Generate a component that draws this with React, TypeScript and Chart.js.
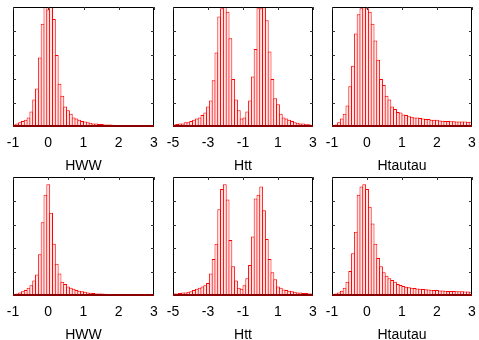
import React, { useEffect, useRef } from "react";
import { Chart, registerables } from "chart.js";

Chart.register(...registerables);

// ---- data (relative bin heights, 50 bins per panel; 100 = top of the frame) ----
const hwwTop = [
  2, 3, 4, 5, 6, 8, 13, 23, 32, 58,
  86, 100, 98, 100, 90, 60, 36, 26, 17, 14,
  11, 8, 7, 6, 5, 4.5, 4, 3.5, 3, 3,
  2.5, 2.5, 2, 2, 2, 1.8, 1.5, 1.5, 1.2, 1.2,
  1, 1, 1, 0.8, 0.8, 0.7, 0.6, 0.5, 0.5, 0.5,
];
const httTop = [
  2, 2.5, 3, 3, 4, 4, 5, 6, 7, 8,
  10, 12, 17, 22, 39, 62, 92, 99, 100, 96,
  74, 40, 23, 14, 7, 8, 13, 22, 42, 65,
  99, 99, 100, 89, 63, 40, 24, 19, 11, 8,
  7, 6, 5, 4, 3.5, 3, 3, 2.2, 2.2, 1.7,
];
const htautauTop = [
  1.5, 2, 4, 7, 11, 18, 34, 51, 78, 94,
  99, 100, 99, 96, 86, 72, 56, 40, 35, 26,
  23, 17, 15, 12.5, 12, 10.5, 10, 9, 8.5, 8,
  8, 7.5, 7, 6.7, 6.7, 6, 6, 6, 5.5, 5.3,
  5, 5, 4.8, 4.7, 4.6, 4.6, 4.5, 4.5, 4.4, 4.4,
];
const hwwBottom = [
  1.5, 2, 3, 4, 5, 7, 9, 13, 18, 35,
  62, 85, 94, 70, 44, 27, 19, 12, 10, 8,
  7, 6, 5, 4.5, 4, 3.5, 3, 2.8, 2.5, 2.2,
  2, 2, 1.8, 1.5, 1.5, 1.3, 1.2, 1.2, 1, 1,
  1, 0.8, 0.8, 0.7, 0.7, 0.6, 0.6, 0.5, 0.5, 0.5,
];
const httBottom = [
  2, 2, 2.5, 3, 3, 3.5, 4, 5, 6, 7,
  8, 9, 11, 19, 31, 44, 73, 90, 94, 81,
  47, 25, 13, 7, 6, 9, 15, 26, 50, 82,
  85, 92, 72, 48, 31, 20, 14, 8, 7, 5.5,
  5, 4.5, 4, 3.5, 3, 3, 2.5, 2.5, 2, 2,
];
const htautauBottom = [
  1, 2, 3, 4.5, 7, 12, 21, 36, 54, 85,
  92, 94, 90, 75, 61, 44, 32, 25, 20, 17,
  15, 13.4, 12, 10, 9.2, 8.4, 7.8, 7.3, 7, 6.7,
  6.4, 6.1, 5.9, 5.6, 5.5, 5.3, 5, 5, 4.7, 4.7,
  4.5, 4.3, 4.2, 4.2, 4, 4, 4, 3.8, 3.8, 3.6,
];

const titles = ["HWW", "Htt", "Htautau"];
const xRanges = [
  [-1, 3, 1],
  [-5, 3, 2],
  [-1, 3, 1],
];
const yTickValues = [20, 40, 60, 80];
const seriesGrid = [
  [hwwTop, httTop, htautauTop],
  [hwwBottom, httBottom, htautauBottom],
];

// ---- layout ----
const colLeft = [13, 173, 332];
const colWidth = [141, 140, 140];
const rowTop = [7, 177];
const rowHeight = [120, 119];
const PADX = 20;
const PADT = 7;
const AXIS_H = 48;
const FONT = "'Liberation Sans', Arial, Helvetica, sans-serif";

const framePlugin = {
  id: "frame",
  afterDatasetsDraw(chart: any) {
    const { ctx, chartArea, scales } = chart;
    const { left, right, top, bottom } = chartArea;
    const x = scales.x;
    const y = scales.y;
    ctx.save();
    ctx.strokeStyle = "#000";
    ctx.lineWidth = 1;
    ctx.beginPath();
    ctx.moveTo(left + 0.5, bottom);
    ctx.lineTo(left + 0.5, top + 0.5);
    ctx.lineTo(right - 0.5, top + 0.5);
    ctx.lineTo(right - 0.5, bottom);
    ctx.stroke();
    ctx.strokeStyle = "#333";
    ctx.beginPath();
    x.ticks.forEach((t: any) => {
      const px = Math.round(x.getPixelForValue(t.value)) + 0.5;
      ctx.moveTo(px, top);
      ctx.lineTo(px, top + 3);
    });
    yTickValues.forEach((v) => {
      const py = Math.round(y.getPixelForValue(v)) + 0.5;
      ctx.moveTo(left, py);
      ctx.lineTo(left + 3, py);
      ctx.moveTo(right, py);
      ctx.lineTo(right - 3, py);
    });
    ctx.stroke();
    ctx.strokeStyle = "#8a0000";
    ctx.lineWidth = 2;
    ctx.beginPath();
    ctx.moveTo(left, bottom - 1);
    ctx.lineTo(right, bottom - 1);
    ctx.stroke();
    ctx.restore();
  },
};

function Panel({ row, col }: { row: number; col: number }) {
  const ref = useRef<HTMLCanvasElement | null>(null);
  const values = seriesGrid[row][col];
  const [min, max, step] = xRanges[col];
  const w = colWidth[col] + 2 * PADX;
  const h = PADT + rowHeight[row] + AXIS_H;
  const left = colLeft[col] - PADX;
  const top = rowTop[row] - PADT;

  useEffect(() => {
    if (!ref.current) return;
    const binW = (max - min) / values.length;
    const data = values.map((v, i) => ({ x: min + binW * (i + 0.5), y: v }));
    const chart = new Chart(ref.current, {
      type: "bar",
      data: {
        datasets: [
          {
            data,
            borderColor: "#ff0000",
            backgroundColor: "#ffe4e4",
            borderWidth: 1,
            borderSkipped: "start",
            barPercentage: 1.36,
            categoryPercentage: 1,
          } as any,
        ],
      },
      options: {
        animation: false,
        responsive: false,
        maintainAspectRatio: false,
        layout: { padding: { left: PADX, right: PADX, top: PADT, bottom: 0 } },
        plugins: { legend: { display: false }, tooltip: { enabled: false } },
        scales: {
          x: {
            type: "linear",
            min,
            max,
            offset: false,
            grid: { display: false, drawTicks: false },
            border: { display: false },
            ticks: {
              stepSize: step,
              autoSkip: false,
              maxRotation: 0,
              padding: 8,
              color: "#000",
              font: { family: FONT, size: 14 },
            },
            title: {
              display: true,
              text: titles[col],
              color: "#000",
              font: { family: FONT, size: 14 },
              padding: 0,
            },
            afterFit: (s: any) => {
              s.height = AXIS_H;
            },
          } as any,
          y: { display: false, min: 0, max: 100 },
        },
      },
      plugins: [framePlugin],
    });
    return () => chart.destroy();
  }, []);

  return (
    <canvas
      ref={ref}
      width={w}
      height={h}
      style={{ position: "absolute", left, top, width: w, height: h }}
    />
  );
}

export default function App() {
  return (
    <div
      style={{
        position: "absolute",
        left: 0,
        top: 0,
        width: 479,
        height: 340,
        background: "#fff",
        overflow: "hidden",
      }}
    >
      {[0, 1].map((r) =>
        [0, 1, 2].map((c) => <Panel key={`${r}-${c}`} row={r} col={c} />)
      )}
    </div>
  );
}
